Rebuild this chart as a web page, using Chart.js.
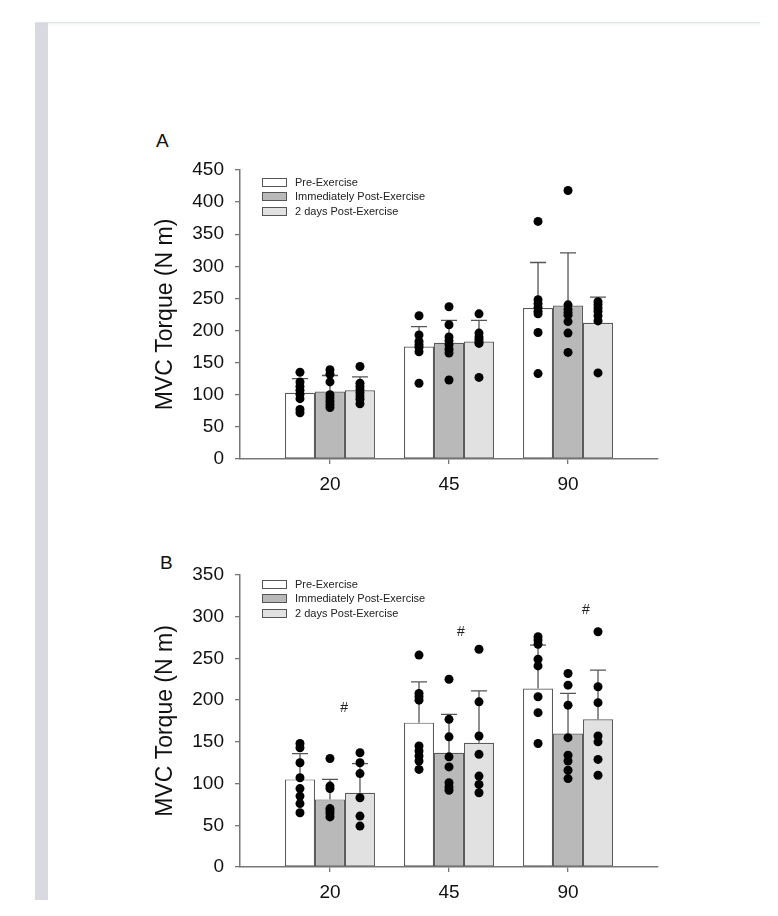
<!DOCTYPE html>
<html>
<head>
<meta charset="utf-8">
<script src="https://cdn.jsdelivr.net/npm/chart.js@4.4.0/dist/chart.umd.min.js"></script>
<style>
body { margin: 0; background: #fff; width: 778px; height: 916px; overflow: hidden; position: relative; font-family: "Liberation Sans", Arial, sans-serif; }
#sidebar { position: absolute; left: 35px; top: 22px; width: 13px; height: 878px; background: #d9d9e1; }
#topline { position: absolute; left: 35px; top: 22px; width: 725px; height: 1px; background: #dde7eb; box-shadow: 0 1px 2px rgba(200,215,220,0.5); }
.panel { position: absolute; font-size: 19px; color: #111; }
.wrap { position: absolute; left: 0; width: 778px; }
</style>
</head>
<body>
<div id="sidebar"></div>
<div id="topline"></div>
<div class="panel" style="left:156px;top:130px">A</div>
<div class="panel" style="left:160px;top:552px">B</div>
<div class="wrap" style="top:100px;height:410px"><canvas id="chartA" width="778" height="410"></canvas></div>
<div class="wrap" style="top:510px;height:406px"><canvas id="chartB" width="778" height="406"></canvas></div>
<script>
const categories = ['20', '45', '90'];
const seriesNames = ['Pre-Exercise', 'Immediately Post-Exercise', '2 days Post-Exercise'];
const barColors = ['#ffffff', '#b9b9b9', '#e1e1e1'];

// Panel A - means and SD
const preA = [103, 175, 235];
const immA = [105, 181, 239];
const twoA = [107, 183, 212];
const sdPreA = [22, 31, 71];
const sdImmA = [25, 35, 82];
const sdTwoA = [21, 33, 40];

// Panel A - individual subjects
const dotsPreA = [[135, 120, 113, 107, 101, 94, 77, 72], [223, 193, 183, 178, 174, 167, 118], [370, 248, 242, 236, 230, 226, 197, 133]];
const dotsImmA = [[139, 132, 120, 100, 95, 90, 85, 80], [237, 209, 190, 184, 178, 171, 165, 123], [418, 240, 233, 228, 224, 214, 196, 166]];
const dotsTwoA = [[144, 118, 113, 108, 103, 98, 93, 86], [226, 196, 190, 186, 182, 180, 127], [245, 240, 235, 230, 223, 215, 134]];

// Panel B - means and SD
const preB = [105, 173, 214];
const immB = [81, 137, 160];
const twoB = [89, 149, 177];
const sdPreB = [31, 49, 52];
const sdImmB = [24, 46, 48];
const sdTwoB = [35, 62, 59];

// Panel B - individual subjects
const dotsPreB = [[148, 143, 125, 107, 94, 85, 76, 65], [254, 208, 204, 200, 145, 139, 133, 127, 117], [276, 272, 267, 249, 241, 204, 185, 148]];
const dotsImmB = [[130, 97, 94, 70, 67, 64, 60], [225, 177, 156, 132, 120, 101, 96, 92], [232, 218, 194, 155, 134, 127, 116, 106]];
const dotsTwoB = [[137, 125, 112, 83, 61, 49], [261, 198, 157, 135, 109, 99, 89], [282, 216, 197, 157, 150, 129, 110]];

// '#' significance marks in panel B: [category position, value]
const hashB = [[0.12, 190], [1.1, 281], [2.15, 308]];

const FONT = '"Liberation Sans", Arial, sans-serif';
const groupPct = 0.756;
const barStep = groupPct / 3;

const errorBars = {
    id: 'errorBars',
    afterDatasetDraw(chart, args) {
        const meta = args.meta;
        if (meta.type !== 'bar') return;
        const ds = chart.data.datasets[args.index];
        const yScale = chart.scales.y;
        const ctx = chart.ctx;
        ctx.save();
        ctx.strokeStyle = '#555';
        ctx.lineWidth = 1.3;
        meta.data.forEach((bar, i) => {
            const top = yScale.getPixelForValue(ds.data[i].y + ds.sd[i]);
            ctx.beginPath();
            ctx.moveTo(bar.x, bar.y);
            ctx.lineTo(bar.x, top);
            ctx.moveTo(bar.x - 8, top);
            ctx.lineTo(bar.x + 8, top);
            ctx.stroke();
        });
        ctx.restore();
    }
};

const innerLegend = {
    id: 'innerLegend',
    afterDraw(chart, args, opts) {
        const {ctx, chartArea} = chart;
        const x = chartArea.left + 22;
        ctx.save();
        ctx.font = '11px ' + FONT;
        ctx.textBaseline = 'middle';
        seriesNames.forEach((name, i) => {
            const y = Math.round(chartArea.top + opts.top + i * opts.step);
            ctx.fillStyle = barColors[i];
            ctx.fillRect(x, y - 4, 24, 8);
            ctx.strokeStyle = '#555';
            ctx.lineWidth = 1;
            ctx.strokeRect(x + 0.5, y - 3.5, 24, 8);
            ctx.fillStyle = '#222';
            ctx.fillText(name, x + 33, y + 0.5);
        });
        ctx.restore();
    }
};

const hashMarks = {
    id: 'hashMarks',
    afterDraw(chart, args, opts) {
        if (!opts.marks) return;
        const {ctx, scales} = chart;
        ctx.save();
        ctx.font = '14px ' + FONT;
        ctx.fillStyle = '#222';
        ctx.textAlign = 'center';
        ctx.textBaseline = 'middle';
        opts.marks.forEach(m => ctx.fillText('#', scales.x.getPixelForValue(m[0]), scales.y.getPixelForValue(m[1])));
        ctx.restore();
    }
};

function buildChart(id, means, sds, dots, yMax, topPad, xAxisH, legendTop, legendStep, marks) {
    const datasets = [];
    seriesNames.forEach((name, s) => {
        datasets.push({
            type: 'bar',
            label: name,
            data: means[s].map((v, i) => ({x: i, y: v})),
            sd: sds[s],
            backgroundColor: barColors[s],
            borderColor: '#5a5a5a',
            borderWidth: 1.2,
            borderSkipped: false,
            categoryPercentage: groupPct,
            barPercentage: 1,
            order: 2
        });
    });
    seriesNames.forEach((name, s) => {
        const pts = [];
        dots[s].forEach((arr, i) => arr.forEach(v => pts.push({x: i + (s - 1) * barStep, y: v})));
        datasets.push({
            type: 'scatter',
            label: name + ' subjects',
            data: pts,
            pointRadius: 4.5,
            backgroundColor: '#000',
            borderWidth: 0,
            order: 1
        });
    });

    const axisGrid = {drawOnChartArea: false, offset: false, tickLength: 5, color: '#777', lineWidth: 1.3};
    const axisBorder = {color: '#777', width: 1.5};

    return new Chart(document.getElementById(id), {
        data: {datasets: datasets},
        options: {
            responsive: false,
            animation: false,
            layout: {padding: {left: 145, right: 120, top: topPad, bottom: 0}},
            plugins: {
                legend: {display: false},
                tooltip: {enabled: false},
                innerLegend: {top: legendTop, step: legendStep},
                hashMarks: {marks: marks}
            },
            scales: {
                x: {
                    type: 'linear',
                    min: -groupPct,
                    max: 2 + groupPct,
                    offset: false,
                    afterBuildTicks: scale => { scale.ticks = categories.map((c, i) => ({value: i})); },
                    ticks: {
                        callback: v => categories[v],
                        font: {size: 19, family: FONT},
                        color: '#111',
                        padding: 9,
                        maxRotation: 0,
                        autoSkip: false
                    },
                    grid: axisGrid,
                    border: axisBorder,
                    afterFit: scale => { scale.height = xAxisH; }
                },
                y: {
                    min: 0,
                    max: yMax,
                    ticks: {stepSize: 50, font: {size: 19, family: FONT}, color: '#111', padding: 11},
                    grid: axisGrid,
                    border: axisBorder,
                    title: {
                        display: true,
                        text: 'MVC Torque (N m)',
                        font: {size: 23, family: FONT},
                        color: '#111',
                        padding: {top: 7, bottom: 0}
                    },
                    afterFit: scale => { scale.width = 95; }
                }
            }
        },
        plugins: [errorBars, innerLegend, hashMarks]
    });
}

buildChart('chartA', [preA, immA, twoA], [sdPreA, sdImmA, sdTwoA], [dotsPreA, dotsImmA, dotsTwoA], 450, 70, 51, 12, 14.3, null);
buildChart('chartB', [preB, immB, twoB], [sdPreB, sdImmB, sdTwoB], [dotsPreB, dotsImmB, dotsTwoB], 350, 65, 49, 8.5, 14.5, hashB);
</script>
</body>
</html>
